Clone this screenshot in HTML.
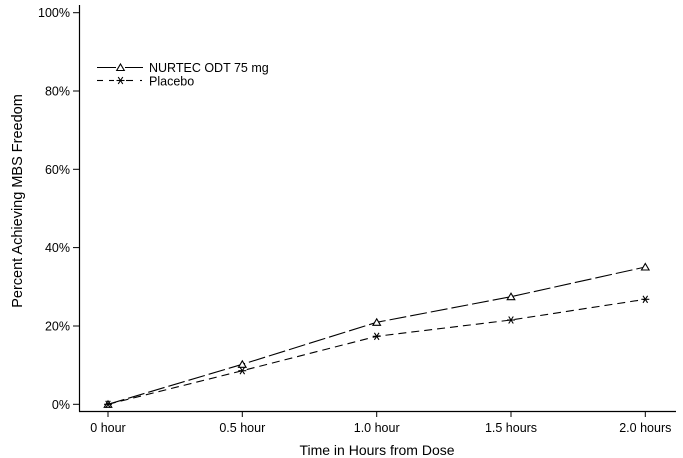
<!DOCTYPE html>
<html><head><meta charset="utf-8"><style>
html,body{margin:0;padding:0;background:#fff;}
svg{display:block;font-family:"Liberation Sans",Arial,sans-serif;}
</style></head><body>
<svg width="683" height="458" viewBox="0 0 683 458" xmlns="http://www.w3.org/2000/svg">
<defs>
<g id="tri"><path d="M0,-3.5 L3.8,3 L-3.8,3 Z" fill="#fff" stroke="#000" stroke-width="1.1"/></g>
<g id="star" stroke="#000" stroke-width="1.1"><line x1="-4" y1="0" x2="4" y2="0"/><line x1="-2.3" y1="-3.5" x2="2.3" y2="3.5"/><line x1="2.3" y1="-3.5" x2="-2.3" y2="3.5"/></g>
</defs>
<!-- axes -->
<line x1="79.5" y1="5" x2="79.5" y2="411.5" stroke="#000" stroke-width="1.2"/>
<line x1="79" y1="411.5" x2="676" y2="411.5" stroke="#000" stroke-width="1.2"/>
<!-- y ticks -->
<g stroke="#000" stroke-width="1">
<line x1="73" y1="12.7" x2="79" y2="12.7"/>
<line x1="73" y1="91" x2="79" y2="91"/>
<line x1="73" y1="169.3" x2="79" y2="169.3"/>
<line x1="73" y1="247.6" x2="79" y2="247.6"/>
<line x1="73" y1="326" x2="79" y2="326"/>
<line x1="73" y1="404.3" x2="79" y2="404.3"/>
</g>
<g font-size="12.5" text-anchor="end" fill="#000">
<text x="70" y="17">100%</text>
<text x="70" y="95.5">80%</text>
<text x="70" y="173.8">60%</text>
<text x="70" y="252">40%</text>
<text x="70" y="330.5">20%</text>
<text x="70" y="408.8">0%</text>
</g>
<!-- x ticks -->
<g stroke="#000" stroke-width="1">
<line x1="108" y1="411" x2="108" y2="417"/>
<line x1="242.3" y1="411" x2="242.3" y2="417"/>
<line x1="376.7" y1="411" x2="376.7" y2="417"/>
<line x1="511" y1="411" x2="511" y2="417"/>
<line x1="645.3" y1="411" x2="645.3" y2="417"/>
</g>
<g font-size="12.5" text-anchor="middle" fill="#000">
<text x="108" y="432">0 hour</text>
<text x="242.3" y="432">0.5 hour</text>
<text x="376.7" y="432">1.0 hour</text>
<text x="511" y="432">1.5 hours</text>
<text x="645.3" y="432">2.0 hours</text>
</g>
<text x="377" y="455" font-size="14" text-anchor="middle">Time in Hours from Dose</text>
<text transform="translate(22,201) rotate(-90)" font-size="14.5" text-anchor="middle">Percent Achieving MBS Freedom</text>
<!-- series -->
<polyline points="108,404.3 242.3,364.3 376.7,322.3 511,296.7 645.3,267" fill="none" stroke="#000" stroke-width="1.1" stroke-dasharray="17,4"/>
<polyline points="108,404.3 242.3,370.7 376.7,336.3 511,320 645.3,299.3" fill="none" stroke="#000" stroke-width="1.1" stroke-dasharray="8,5"/>
<use href="#tri" x="108" y="404.3"/>
<use href="#tri" x="242.3" y="364.3"/>
<use href="#tri" x="376.7" y="322.3"/>
<use href="#tri" x="511" y="296.7"/>
<use href="#tri" x="645.3" y="267"/>
<use href="#star" x="108" y="404.3"/>
<use href="#star" x="242.3" y="370.7"/>
<use href="#star" x="376.7" y="336.3"/>
<use href="#star" x="511" y="320"/>
<use href="#star" x="645.3" y="299.3"/>
<!-- legend -->
<line x1="97" y1="67.5" x2="116" y2="67.5" stroke="#000" stroke-width="1.1"/>
<line x1="125" y1="67.5" x2="143" y2="67.5" stroke="#000" stroke-width="1.1"/>
<use href="#tri" x="120.5" y="67.5"/>
<line x1="97" y1="80.5" x2="103" y2="80.5" stroke="#000" stroke-width="1.1"/>
<line x1="109" y1="80.5" x2="114" y2="80.5" stroke="#000" stroke-width="1.1"/>
<line x1="126" y1="80.5" x2="133" y2="80.5" stroke="#000" stroke-width="1.1"/>
<line x1="140" y1="80.5" x2="142" y2="80.5" stroke="#000" stroke-width="1.1"/>
<use href="#star" x="120.5" y="80.5"/>
<text x="149" y="72" font-size="12.5">NURTEC ODT 75 mg</text>
<text x="149" y="85.5" font-size="12.5">Placebo</text>
</svg>
</body></html>
